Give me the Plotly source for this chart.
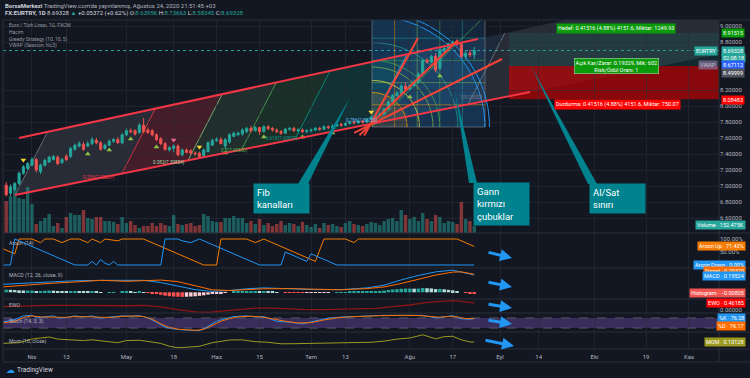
import math
import plotly.graph_objects as go
import pandas as pd

# ---------------- data ----------------
dates = [d.strftime("%Y-%m-%d") for d in pd.bdate_range("2020-03-24", "2020-08-24")]
bars = list(range(len(dates)))

open_ = [7.01,6.91,6.96,7.03,7.16,7.22,7.26,7.33,7.18,7.26,
         7.30,7.33,7.36,7.29,7.37,7.37,7.46,7.50,7.52,7.50,
         7.53,7.57,7.54,7.47,7.51,7.56,7.58,7.54,7.64,7.69,
         7.69,7.67,7.76,7.70,7.69,7.64,7.59,7.53,7.45,7.47,
         7.50,7.39,7.45,7.44,7.41,7.41,7.38,7.43,7.51,7.57,
         7.58,7.50,7.55,7.62,7.64,7.65,7.68,7.72,7.69,7.73,
         7.68,7.74,7.72,7.70,7.68,7.66,7.71,7.72,7.69,7.70,
         7.68,7.69,7.70,7.72,7.71,7.74,7.73,7.75,7.77,7.76,
         7.78,7.80,7.79,7.81,7.80,7.83,7.86,7.88,7.90,7.96,
         8.05,8.13,8.16,8.25,8.21,8.26,8.30,8.40,8.57,8.55,
         8.62,8.47,8.69,8.72,8.77,8.80,8.77,8.62,8.66,8.63956]
high = [7.05,7.02,7.05,7.18,7.26,7.30,7.36,7.35,7.28,7.34,
        7.38,7.39,7.38,7.35,7.40,7.49,7.53,7.56,7.55,7.56,
        7.61,7.60,7.56,7.53,7.58,7.60,7.61,7.66,7.72,7.72,
        7.71,7.79,7.85,7.73,7.71,7.66,7.61,7.55,7.50,7.52,
        7.52,7.47,7.47,7.46,7.43,7.43,7.47,7.56,7.59,7.61,
        7.61,7.60,7.66,7.68,7.68,7.72,7.74,7.75,7.75,7.74,
        7.76,7.76,7.74,7.72,7.70,7.73,7.74,7.74,7.72,7.72,
        7.71,7.72,7.74,7.74,7.76,7.76,7.77,7.79,7.79,7.80,
        7.82,7.82,7.83,7.83,7.85,7.88,7.90,7.92,7.98,8.07,
        8.15,8.19,8.28,8.29,8.28,8.33,8.42,8.59,8.60,8.64,
        8.66,8.73,8.74,8.79,8.82,8.83,8.80,8.69,8.70,8.73663]
low = [6.87,6.88,6.94,7.01,7.14,7.20,7.25,7.17,7.15,7.24,
       7.29,7.32,7.26,7.28,7.31,7.35,7.44,7.48,7.44,7.49,
       7.51,7.52,7.44,7.45,7.50,7.54,7.53,7.52,7.62,7.66,
       7.63,7.65,7.66,7.65,7.62,7.56,7.51,7.44,7.43,7.42,
       7.37,7.37,7.41,7.39,7.38,7.35,7.36,7.42,7.50,7.55,
       7.52,7.46,7.53,7.61,7.63,7.63,7.66,7.67,7.68,7.64,
       7.67,7.70,7.68,7.66,7.64,7.65,7.69,7.68,7.67,7.66,
       7.66,7.67,7.69,7.69,7.70,7.71,7.72,7.74,7.74,7.75,
       7.77,7.77,7.78,7.78,7.79,7.82,7.84,7.86,7.89,7.95,
       8.03,8.11,8.15,8.18,8.19,8.24,8.28,8.38,8.53,8.53,
       8.42,8.45,8.66,8.70,8.75,8.75,8.60,8.58,8.61,8.58345]
close = [6.89,6.99,7.03,7.16,7.24,7.28,7.33,7.20,7.26,7.32,
         7.36,7.37,7.28,7.33,7.33,7.47,7.51,7.53,7.46,7.53,
         7.58,7.54,7.46,7.51,7.56,7.58,7.54,7.64,7.69,7.68,
         7.65,7.76,7.68,7.67,7.64,7.58,7.53,7.46,7.48,7.50,
         7.39,7.45,7.42,7.41,7.40,7.37,7.45,7.54,7.57,7.58,
         7.53,7.58,7.64,7.66,7.66,7.70,7.72,7.69,7.73,7.68,
         7.74,7.72,7.70,7.68,7.66,7.71,7.72,7.69,7.70,7.68,
         7.69,7.70,7.72,7.71,7.74,7.73,7.75,7.77,7.76,7.78,
         7.80,7.79,7.81,7.80,7.83,7.86,7.88,7.90,7.96,8.05,
         8.13,8.16,8.25,8.21,8.26,8.30,8.40,8.57,8.55,8.62,
         8.45,8.70,8.72,8.78,8.80,8.77,8.62,8.66,8.64,8.69328]
volume_k = [698,807,981,763,741,1003,632,196,262,327,
            414,153,218,109,349,436,392,392,501,327,
            305,349,349,262,262,240,196,349,218,262,
            174,109,153,153,218,153,218,174,153,392,
            196,174,196,218,153,174,414,371,262,240,
            240,327,327,371,327,327,218,262,196,305,
            174,218,153,196,262,174,218,196,153,240,
            174,131,196,109,218,174,196,153,131,218,
            262,196,174,153,196,240,218,174,262,305,
            327,262,501,392,305,349,262,436,305,262,
            392,349,218,262,240,196,676,305,262,152.475]

tick_bars = [6, 14, 28, 39, 49, 59, 71, 79, 94, 104, 115, 124, 137, 149, 159]
tick_labels = ["Nis", "13", "May", "18", "Haz", "15", "Tem", "13", "Ağu", "17", "Eyl", "14", "Eki", "19", "Kas"]
price_ticks = [6.6, 6.8, 7.0, 7.2, 7.4, 7.6, 7.8, 8.0, 8.2, 8.8, 9.0]

# Greedy strategy signals
sig_bar = [4, 19, 24, 29, 35, 39, 45, 51, 60, 69, 76, 85, 94, 101]
sig_price = [7.325, 7.40, 7.45, 7.5875, 7.4875, 7.575, 7.4875, 7.4125, 7.6125, 7.6125, 7.6625, 7.925, 8.1125, 8.375]
sig_kind = ["dy", "up", "up", "up", "up", "dr", "dy", "up", "up", "up", "up", "dy", "up", "up"]

# Aroon (14)
au_bar = [-1,2,3,6,8,9,11,13,15,17,19,20,22,23,26,27,32,46,49,50,56,58,60,72,74,79,81,82,105,109]
au_val = [64,43,100,100,86,100,100,86,100,100,86,100,86,100,93,100,100,0,0,100,100,86,100,14,100,100,86,100,100,71.43]
ad_bar = [-1,1,2,16,19,20,21,22,23,24,25,26,36,37,40,41,43,45,59,64,65,70,71,77,109]
ad_val = [0,0,100,0,0,14,0,21,7,0,14,0,0,100,100,93,86,100,0,0,50,14,43,0,0]

# MACD (12, 26, close, 9)
macd_bar = [-1,4,10,16,22,28,32,36,40,44,48,52,56,60,66,72,78,84,88,92,96,100,104,106,109]
macd_val = [0.09,0.10,0.12,0.13,0.135,0.13,0.135,0.11,0.07,0.03,0.01,0.02,0.04,0.05,0.04,0.03,0.03,0.05,0.08,0.14,0.19,0.23,0.25,0.23,0.19524]
signal_val = [0.06,0.08,0.10,0.116,0.135,0.124,0.132,0.138,0.12,0.075,0.028,0.02,0.03,0.04,0.042,0.034,0.028,0.042,0.06,0.10,0.148,0.194,0.228,0.23,0.20329]
hist_val = [0.030,0.028,0.025,0.022,0.020,0.020,0.020,0.015,0.015,0.018,
            0.020,0.018,0.012,0.010,0.008,0.012,0.014,0.012,0.008,0.006,
            0.008,0.006,0.002,0.000,0.001,0.002,0.000,0.004,0.006,0.004,
            0.002,0.006,0.003,-0.004,-0.010,-0.018,-0.028,-0.038,-0.044,-0.048,
            -0.050,-0.051,-0.050,-0.048,-0.045,-0.040,-0.034,-0.026,-0.018,-0.012,
            -0.008,-0.004,0.000,0.004,0.007,0.009,0.010,0.010,0.010,0.009,
            0.010,0.008,0.006,0.003,0.000,-0.001,-0.002,-0.003,-0.004,-0.005,
            -0.005,-0.004,-0.004,-0.003,-0.002,-0.001,0.000,0.001,0.002,0.003,
            0.004,0.005,0.005,0.006,0.008,0.010,0.013,0.016,0.020,0.026,
            0.032,0.036,0.040,0.042,0.042,0.041,0.042,0.048,0.046,0.044,
            0.036,0.038,0.034,0.028,0.022,0.014,0.000,-0.006,-0.008,-0.00805]

# EWO
ewo_bar = [-1,4,10,16,22,28,32,36,40,44,47,50,54,58,62,66,70,74,78,82,86,90,94,98,102,104,106,109]
ewo_val = [0.22,0.27,0.30,0.30,0.28,0.28,0.30,0.20,0.02,-0.12,-0.15,-0.08,0.05,0.13,0.12,0.06,0.02,0.03,0.05,0.07,0.11,0.22,0.33,0.50,0.58,0.62,0.57,0.46185]

# Stoch (14, 3, 3)
k_bar = [-1,2,4,6,7,9,11,12,14,16,18,20,22,24,27,29,31,33,35,37,39,41,43,45,47,49,51,53,56,58,60,63,66,69,72,75,78,81,84,88,92,95,97,100,102,104,106,108,109]
k_val = [55,70,92,95,80,85,92,80,82,92,85,92,78,85,92,90,93,80,55,25,15,10,8,5,30,60,75,88,92,85,88,60,55,45,62,78,85,88,92,95,95,93,95,80,88,93,75,72,76.28]
d_bar = [-1,2,4,6,8,10,12,14,16,18,20,22,24,27,30,32,34,36,38,40,42,44,46,48,50,52,54,57,59,62,65,68,71,74,77,80,83,87,92,96,99,101,103,105,107,109]
d_val = [50,60,82,92,86,86,86,83,88,88,88,84,82,89,91,88,72,45,24,14,10,7,12,38,60,76,86,90,87,75,60,50,52,68,80,86,90,93,95,94,88,84,88,86,76,76.17]

# Mom (10, close)
mom_bar = [-1,3,6,10,12,15,18,20,23,26,28,31,33,36,38,40,42,45,48,50,52,55,58,61,64,67,70,73,76,79,82,85,88,91,94,97,100,102,104,106,108,109]
mom_val = [0.0,0.05,0.30,0.45,0.30,0.25,0.20,0.25,0.15,0.05,0.20,0.22,0.14,0.0,-0.20,-0.30,-0.27,-0.20,0.05,0.15,0.24,0.25,0.12,0.08,-0.03,-0.02,0.0,0.02,0.05,0.07,0.06,0.08,0.16,0.30,0.38,0.60,0.32,0.47,0.50,0.25,0.10,0.10128]

# ---------------- drawing anchors (bar index, price) ----------------
fib_lower = [(2.049,6.8875),(26.94,7.155),(42.34,7.32),(54.80,7.4538),(67.26,7.5875),(84.97,7.7775),(107.54,8.02)]
fib_upper = [(9.64,7.6775),(34.75,7.96875),(50.30,8.1475),(62.90,8.29375),(75.43,8.43875),(93.32,8.64625),(116.09,8.91)]
fib_lower_ext = (170.0, 8.6905)
fib_upper_ext = (170.0, 9.534)
chan_upper = [(2.98, 7.6), (109.87, 8.8375)]
chan_lower = [(2.049, 6.8875), (122.0, 8.175)]
fan_origin = (84.72, 7.7625)
fan_ends = [(95.9, 8.85), (105.22, 8.825), (115.46, 8.5875)]
gann_x = (85.19, 111.5)
gann_p = (7.7375, 9.125)
pos_x = (117.1, 170.0)
pos_entry, pos_target, pos_stop = 8.49999, 8.91515, 8.08483
last_price = 8.69328

# ---------------- layout helpers (pixels -> paper) ----------------
L_PX, R_PX, T_PX, B_PX = 3, 719, 20, 349
def px(x):
    return (x - L_PX) / (R_PX - L_PX)
def py(y):
    return (B_PX - y) / (B_PX - T_PX)
def dom(y_top, y_bot):
    return [py(y_bot), py(y_top)]

BG = "#131722"
TXT = "#b2b5be"
FONT = "Roboto"

fig = go.Figure()

vol_colors = ["rgba(38,166,154,0.5)" if c >= o else "rgba(239,83,80,0.5)" for o, c in zip(open_, close)]
fig.add_trace(go.Bar(x=bars, y=volume_k, marker_color=vol_colors, marker_line_width=0, width=0.8,
                     xaxis="x", yaxis="y", hoverinfo="skip"))
fig.add_trace(go.Candlestick(x=bars, open=open_, high=high, low=low, close=close, xaxis="x", yaxis="y2",
                             increasing=dict(line=dict(color="#26a69a", width=1), fillcolor="#26a69a"),
                             decreasing=dict(line=dict(color="#ef5350", width=1), fillcolor="#ef5350"),
                             whiskerwidth=0, text=dates, hoverinfo="text"))
sym = {"up": "triangle-up", "dy": "triangle-down", "dr": "triangle-down"}
col = {"up": "#8bc34a", "dy": "#fdd835", "dr": "#f06292"}
fig.add_trace(go.Scatter(x=sig_bar, y=sig_price, mode="markers", xaxis="x", yaxis="y2", hoverinfo="skip",
                         marker=dict(symbol=[sym[k] for k in sig_kind], color=[col[k] for k in sig_kind], size=5,
                                     line=dict(width=0))))

fig.add_trace(go.Scatter(x=au_bar, y=au_val, mode="lines", line=dict(color="#f57c00", width=1), xaxis="x", yaxis="y3", hoverinfo="skip"))
fig.add_trace(go.Scatter(x=ad_bar, y=ad_val, mode="lines", line=dict(color="#2196f3", width=1), xaxis="x", yaxis="y3", hoverinfo="skip"))

hist_colors = []
for i, v in enumerate(hist_val):
    prev = hist_val[i - 1] if i > 0 else v
    if v >= 0:
        hist_colors.append("#26a69a" if v >= prev else "#b2dfdb")
    else:
        hist_colors.append("#ff5252" if v < prev else "#ffcdd2")
fig.add_trace(go.Bar(x=bars, y=hist_val, marker_color=hist_colors, marker_line_width=0, width=0.8, xaxis="x", yaxis="y4", hoverinfo="skip"))
fig.add_trace(go.Scatter(x=macd_bar, y=macd_val, mode="lines", line=dict(color="#2196f3", width=1), xaxis="x", yaxis="y4", hoverinfo="skip"))
fig.add_trace(go.Scatter(x=macd_bar, y=signal_val, mode="lines", line=dict(color="#ff6d00", width=1), xaxis="x", yaxis="y4", hoverinfo="skip"))

fig.add_trace(go.Scatter(x=ewo_bar, y=ewo_val, mode="lines", line=dict(color="#8e1616", width=1.3), xaxis="x", yaxis="y5", hoverinfo="skip"))

fig.add_trace(go.Scatter(x=k_bar, y=k_val, mode="lines", line=dict(color="#2196f3", width=1), xaxis="x", yaxis="y6", hoverinfo="skip"))
fig.add_trace(go.Scatter(x=d_bar, y=d_val, mode="lines", line=dict(color="#ff6d00", width=1), xaxis="x", yaxis="y6", hoverinfo="skip"))

fig.add_trace(go.Scatter(x=mom_bar, y=mom_val, mode="lines", line=dict(color="#9a9a1e", width=1), xaxis="x", yaxis="y7", hoverinfo="skip"))

# ---------------- shapes ----------------
shapes = []
def path_of(pts, closed=True):
    s = "M " + " L ".join(f"{a},{b}" for a, b in pts)
    return s + (" Z" if closed else "")
def poly(pts, fill, layer="below"):
    shapes.append(dict(type="path", path=path_of(pts), xref="x", yref="y2", fillcolor=fill, line=dict(width=0), layer=layer))
def seg(p0, p1, color, width=1, layer="below", dash="solid"):
    shapes.append(dict(type="line", x0=p0[0], y0=p0[1], x1=p1[0], y1=p1[1], xref="x", yref="y2",
                       line=dict(color=color, width=width, dash=dash), layer=layer))

zone_fills = ["rgba(120,123,134,0.22)", "rgba(242,54,69,0.22)", "rgba(129,199,132,0.13)",
              "rgba(76,175,80,0.16)", "rgba(8,153,129,0.2)", "rgba(100,181,246,0.12)"]
level_cols = ["#787b86", "#f23645", "#81c784", "#4caf50", "#089981", "#64b5f6", "#787b86"]
for k in range(6):
    poly([fib_lower[k], fib_upper[k], fib_upper[k + 1], fib_lower[k + 1]], zone_fills[k])
poly([fib_lower[6], fib_upper[6], fib_upper_ext, fib_lower_ext], "rgba(120,123,134,0.22)")
for k in range(7):
    seg(fib_lower[k], fib_upper[k], level_cols[k], 0.8)

# position tool
shapes.append(dict(type="rect", x0=pos_x[0], x1=pos_x[1], y0=pos_entry, y1=pos_target, xref="x", yref="y2",
                   fillcolor="rgba(8,153,129,0.14)", line=dict(width=0), layer="below"))
shapes.append(dict(type="rect", x0=pos_x[0], x1=pos_x[1], y0=pos_stop, y1=pos_entry, xref="x", yref="y2",
                   fillcolor="rgba(205,0,0,0.64)", line=dict(width=0), layer="below"))

# gann square
gx0, gx1 = gann_x
gp0, gp1 = gann_p
shapes.append(dict(type="rect", x0=gx0, x1=gx1, y0=gp0, y1=gp1, xref="x", yref="y2",
                   fillcolor="rgba(33,150,243,0.12)", line=dict(color="rgba(120,123,134,0.7)", width=1), layer="below"))
def arc(level, n=30):
    return [(gx0 + level * (gx1 - gx0) * math.cos(k * math.pi / 2 / n),
             gp0 + level * (gp1 - gp0) * math.sin(k * math.pi / 2 / n)) for k in range(n + 1)]
poly([(gx0, gp0)] + arc(1.0), "rgba(33,150,243,0.13)")
poly([(gx0, gp0)] + arc(0.31), "rgba(255,152,0,0.14)")
grid_cols = ["rgba(255,152,0,0.6)", "rgba(139,195,74,0.6)", "rgba(76,175,80,0.6)", "rgba(38,166,154,0.6)"]
for j, f in enumerate([0.2, 0.4, 0.6, 0.8]):
    seg((gx0 + f * (gx1 - gx0), gp0), (gx0 + f * (gx1 - gx0), gp1), grid_cols[j], 0.8)
    seg((gx0, gp0 + f * (gp1 - gp0)), (gx1, gp0 + f * (gp1 - gp0)), grid_cols[j], 0.8)
arc_levels = [0.31, 0.42, 0.54, 0.6, 0.76, 1.0, 1.04]
arc_cols = ["rgba(255,152,0,0.8)", "rgba(255,235,59,0.7)", "rgba(139,195,74,0.7)", "rgba(76,175,80,0.7)",
            "rgba(38,166,154,0.7)", "#2196f3", "#2196f3"]
for lv, c in zip(arc_levels, arc_cols):
    shapes.append(dict(type="path", path=path_of(arc(lv), closed=False), xref="x", yref="y2",
                       line=dict(color=c, width=1), layer="below"))
seg((gx0, gp0), (gx1, gp1), "rgba(76,175,80,0.8)", 0.8)

# price line
shapes.append(dict(type="line", xref="paper", yref="y2", x0=0, x1=1, y0=last_price, y1=last_price,
                   line=dict(color="#26a69a", width=1, dash="dot"), layer="below"))

# red channel & gann fan lines
seg(chan_upper[0], chan_upper[1], "#f23645", 2, "above")
seg(chan_lower[0], chan_lower[1], "#f23645", 2, "above")
for e in fan_ends:
    back = (fan_origin[0] - 0.12 * (e[0] - fan_origin[0]), fan_origin[1] - 0.12 * (e[1] - fan_origin[1]))
    seg(back, e, "#f44336", 2, "above")

# stoch band
shapes.append(dict(type="rect", xref="paper", yref="y6", x0=0, x1=1, y0=20, y1=80,
                   fillcolor="rgba(126,87,194,0.36)", line=dict(width=0), layer="below"))
for lv in (20, 80):
    shapes.append(dict(type="line", xref="paper", yref="y6", x0=0, x1=1, y0=lv, y1=lv,
                       line=dict(color="#787b86", width=0.6, dash="dash")))

# frame / pane separators
FR = "#2a2e39"
for yy in (20, 233, 268, 299, 313, 332, 349, 362):
    shapes.append(dict(type="line", xref="paper", yref="paper", x0=px(3), x1=px(750), y0=py(yy), y1=py(yy),
                       line=dict(color=FR, width=1)))
for xx in (3, 719):
    shapes.append(dict(type="line", xref="paper", yref="paper", x0=px(xx), x1=px(xx), y0=py(20), y1=py(362),
                       line=dict(color=FR, width=1)))

# callout pointers
CALL = "#00838f"
for base_a, base_b, tip in [((298, 184), (308, 184), (350, 98)),
                            ((469, 183), (477, 183), (455, 92)),
                            ((588, 184), (597, 184), (531, 66))]:
    pts = [(px(base_a[0]), py(base_a[1])), (px(base_b[0]), py(base_b[1])), (px(tip[0]), py(tip[1]))]
    shapes.append(dict(type="path", path=path_of(pts), xref="paper", yref="paper",
                       fillcolor=CALL, line=dict(width=0)))

# ---------------- annotations ----------------
ann = []
def text(x, y, t, size=6, color=TXT, xanchor="left", yanchor="middle", **kw):
    d = dict(xref="paper", yref="paper", x=px(x), y=py(y), text=t, showarrow=False,
             xanchor=xanchor, yanchor=yanchor, font=dict(size=size, color=color, family=FONT))
    d.update(kw)
    ann.append(d)

G = "#26a69a"
text(3, 5.5, "<b><span style='color:#d1d4dc'>BorsaMerkezi</span></b> TradingView.com'da yayınlanmış, Ağustos 24, 2020 21:51:45 +03", 6, TXT)
text(3, 13.5, "<b><span style='color:#d1d4dc'>FX:EURTRY, 1D</span></b> <span style='color:#d1d4dc'>8.69328</span> "
              f"<span style='color:{G}'>▲</span> <span style='color:#d1d4dc'>+0.05372 (+0.62%)</span> "
              f"O:<span style='color:{G}'>8.63956</span> H:<span style='color:{G}'>8.73663</span> "
              f"L:<span style='color:{G}'>8.58345</span> C:<span style='color:{G}'>8.69328</span>", 6, "#d1d4dc")

for t, yy in [("Euro / Türk Lirası, 1G, FXCM", 25), ("Hacim", 32), ("Greedy Strategy (10, 10, 5)", 39), ("VWAP (Session, hlc3)", 46)]:
    text(7, yy, t, 5, "#9598a1")
for t, yy in [("Aroon (14)", 243), ("MACD (12, 26, close, 9)", 275), ("EWO", 305), ("Stoch (14, 3, 3)", 321), ("Mom (10, close)", 341)]:
    text(7, yy, t, 5.2, TXT)

# fib level labels
for t, xe, yy, c in [("0.236(7.12337)", 117, 177, "#f23645"), ("0.382(7.30884)", 187, 162, "#a5d6a7"),
                     ("0.5(7.45880)", 250, 150, "#4caf50"), ("0.618(7.60870)", 300, 138, "#089981"),
                     ("0.786(7.82220)", 380, 120, "#64b5f6"), ("1(8.09500)", 485, 98, "#787b86")]:
    text(xe, yy, t, 4.6, c, xanchor="right")

# position labels
text(616, 28, "Hedef: 0.41516 (4.88%) 4151.6, Miktar: 1249.93", 5.5, "#ffffff", xanchor="center", bgcolor="#0a9a0a", borderpad=1)
text(616, 66, "Açık Kar/Zarar: 0.19329, Mik: 602<br>Risk/Ödül Oranı: 1", 5.5, "#ffffff", xanchor="center",
     bgcolor="#0a9a0a", bordercolor="#a5d6a7", borderwidth=0.6, borderpad=1)
text(617, 104, "Durdurma: 0.41516 (4.88%) 4151.6, Miktar: 750.07", 5.5, "#ffffff", xanchor="center", bgcolor="#ff0000", borderpad=1)

# callouts
for t, x0, y0 in [("Fib<br>kanalları", 253, 183), ("Gann<br>kırmızı<br>çubuklar", 473, 182), ("Al/Sat<br>sınırı", 589, 183)]:
    text(x0, y0, t, 9.5, "#ffffff", yanchor="top", bgcolor=CALL, borderpad=3, width=49, align="left")

# price-axis flags
def flag(t, yy, bg, x, anchor, fc="#ffffff"):
    text(x, yy, t, 5.5, fc, xanchor=anchor, bgcolor=bg, borderpad=1)
flag("8.91515", 33, "#0a9a0a", 721, "left")
flag("EURTRY", 51, "#26a69a", 718, "right")
flag("8.69328", 51, "#26a69a", 721, "left")
flag("02:08:18", 57.5, "#26a69a", 721, "left")
flag("VWAP", 65, "rgba(130,110,150,0.75)", 718, "right", "#c0c0d0")
flag("8.67112", 65, "#2962ff", 721, "left")
flag("8.49999", 73, "#50535e", 721, "left")
flag("8.08483", 100, "#ff0000", 721, "left")
flag("Volume · 152.475K", 225, "#26a69a", 746, "right")
flag("Aroon Up · 71.43%", 246, "#f57c00", 746, "right")
flag("Aroon Down · 0.00%", 265, "#2196f3", 746, "right")
flag("Signal · 0.20329", 270.5, "#ff6d00", 746, "right")
flag("MACD · 0.19524", 275.5, "#2196f3", 746, "right")
flag("Histogram · −0.00805", 293, "#ef5350", 746, "right")
flag("EWO · 0.46185", 303, "#ff0000", 746, "right")
flag("%K · 76.28", 318, "#2196f3", 746, "right")
flag("%D · 76.17", 326, "#ff6d00", 746, "right")
flag("MOM · 0.10128", 342, "#9a9a1e", 746, "right")

# blue arrows
for tail, head in [((487, 252), (512, 258)), ((487, 282), (512, 287)), ((487, 304), (512, 308)),
                   ((487, 320), (512, 324)), ((484, 340), (514, 346))]:
    ann.append(dict(xref="paper", yref="paper", x=px(head[0]), y=py(head[1]), ax=tail[0] - head[0], ay=tail[1] - head[1],
                    text="", showarrow=True, arrowhead=2, arrowsize=0.8, arrowwidth=3, arrowcolor="#2196f3"))

# footer logo
text(4, 370, "☁", 9, "#2196f3")
text(15, 370, "TradingView", 6.5, "#d1d4dc")

# ---------------- layout ----------------
def pane_axis(y_top, y_bot, rng, tickvals=None, ticktext=None):
    return dict(domain=dom(y_top, y_bot), range=rng, anchor="x", side="right", showgrid=False, zeroline=False,
                tickmode="array", tickvals=tickvals or [], ticktext=ticktext, tickfont=dict(size=6, color=TXT),
                fixedrange=True)

fig.update_layout(
    width=750, height=378, autosize=False,
    margin=dict(l=L_PX, r=750 - R_PX, t=T_PX, b=378 - B_PX),
    paper_bgcolor=BG, plot_bgcolor=BG, showlegend=False, barmode="overlay",
    font=dict(family=FONT, size=6, color=TXT),
    xaxis=dict(range=[-0.745, 166.0], anchor="y7", tickmode="array", tickvals=tick_bars, ticktext=tick_labels,
               showgrid=True, gridcolor="rgba(42,46,57,0.55)", zeroline=False, showline=False, ticks="",
               tickfont=dict(size=6, color=TXT), rangeslider=dict(visible=False), fixedrange=True,
               ticklabelstandoff=3),
    yaxis=dict(domain=dom(20, 233), range=[0, 4643], anchor="x", showticklabels=False, showgrid=False,
               zeroline=False, fixedrange=True),
    yaxis2=dict(overlaying="y", side="right", anchor="x", range=[6.4125, 9.075], tickmode="array",
                tickvals=price_ticks, tickformat=".5f", showgrid=True, gridcolor="rgba(42,46,57,0.55)",
                zeroline=False, tickfont=dict(size=6, color=TXT), fixedrange=True),
    yaxis3=pane_axis(233, 268, [-11.54, 123.08], [100, 50], ["100.00%", "50.00%"]),
    yaxis4=pane_axis(268, 299, [-0.0755, 0.274]),
    yaxis5=pane_axis(299, 313, [-0.197, 0.724], [0], ["0.00000"]),
    yaxis6=pane_axis(313, 332, [-2.94, 108.8]),
    yaxis7=pane_axis(332, 349, [-0.39, 0.797]),
    shapes=shapes, annotations=ann,
)

fig.write_html("out.html")
